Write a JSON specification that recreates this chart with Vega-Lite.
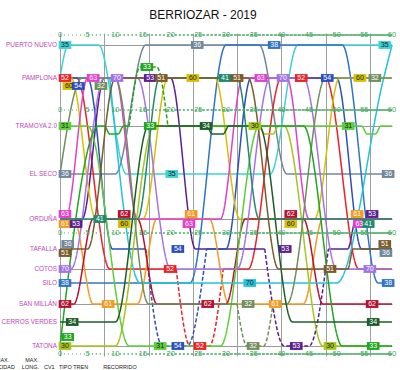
{
 "$schema": "https://vega.github.io/schema/vega-lite/v6.json",
 "width": 332, "height": 323, "autosize": "none",
 "padding": {"left": 60, "top": 33, "right": 8, "bottom": 14},
 "background": "white",
 "title": {"text": "BERRIOZAR - 2019", "fontSize": 12, "font": "Liberation Sans", "fontWeight": "normal", "color": "#111", "anchor": "middle", "dx": -23, "offset": 9},
 "config": {"view": {"stroke": null}, "font": "Liberation Sans",
   "axisX": {"grid": true, "gridColor": "#a0a0a0", "gridWidth": 1, "gridOpacity": 1, "labels": false, "ticks": false, "domain": false},
   "axisY": {"grid": true, "gridColor": "#9a9a9a", "gridOpacity": 1, "ticks": false, "domain": false, "labels": false}},
 "datasets": {
  "st": [{"st":"PN","p":12,"name":"PUERTO NUEVO"},{"st":"PA","p":45,"name":"PAMPLONA"},{"st":"PAl","p":53},{"st":"PC","p":34},{"st":"TR","p":93,"name":"TRAMOYA 2.0"},{"st":"TRd","p":101},{"st":"SE","p":141,"name":"EL SECO"},{"st":"OR","p":186,"name":"ORDUÑA"},{"st":"ORu","p":181},{"st":"ORl","p":191},{"st":"TA","p":216,"name":"TAFALLA"},{"st":"TAu","p":211},{"st":"TAl","p":220},{"st":"CO","p":236,"name":"COTOS"},{"st":"SI","p":250,"name":"SILO"},{"st":"SM","p":271,"name":"SAN MILLÁN"},{"st":"CV","p":289,"name":"CERROS VERDES"},{"st":"TT","p":313,"name":"TATONA"},{"st":"TTu","p":304}],
  "ax": [{"m":0},{"m":5},{"m":10},{"m":15},{"m":20},{"m":25},{"m":30},{"m":35},{"m":40},{"m":45},{"m":50},{"m":55},{"m":60}],
  "tr": [
   {"g":"35a","tr":"35","d":"s","t":[0,1.5,7,12,38,43,60],"st":["PA","PN","PN","SE","SE","PN","PN"]},
   {"g":"36a","tr":"36","d":"s","t":[0,10,15.5,36,41,60],"st":["SE","SE","PN","PN","SE","SE"]},
   {"g":"38a","tr":"38","d":"s","t":[0,23.5,30,51,57.5,60],"st":["SI","SI","PN","PN","SI","SI"]},
   {"g":"52a","tr":"52","d":"s","t":[0,3,9,21],"st":["PA","PA","CO","CO"]},
   {"g":"52b","tr":"52","d":"d","t":[21,23.5,27,29.5],"st":["CO","TT","TT","CO"]},
   {"g":"52c","tr":"52","d":"s","t":[29.5,34,40,48,54,60],"st":["CO","CO","PA","PA","CO","CO"]},
   {"g":"53a","tr":"53","d":"s","t":[0,4,8,20,24.5,37],"st":["OR","OR","PA","PA","TA","TA"]},
   {"g":"53b","tr":"53","d":"d","t":[37,40.5,45,48.5],"st":["TA","TT","TT","TA"]},
   {"g":"53c","tr":"53","d":"s","t":[48.5,52,53.5,60],"st":["TA","TA","OR","OR"]},
   {"g":"54a","tr":"54","d":"s","t":[0,5,9.5,15.5],"st":["PA","PA","TA","TA"]},
   {"g":"54b","tr":"54","d":"d","t":[15.5,18.5,23,26.5],"st":["TA","TT","TT","TA"]},
   {"g":"54c","tr":"54","d":"s","t":[26.5,30,34.5,50,54.5,60],"st":["TA","TA","PA","PA","TA","TA"]},
   {"g":"60a","tr":"60","d":"s","t":[0,2,6.5,15,19.5,28,32.5,46,50.5,60],"st":["PA","PA","OR","OR","PA","PA","OR","OR","PA","PA"]},
   {"g":"61a","tr":"61","d":"s","t":[0,2.5,6,14,17.5,27,30.5,44,47.5,60],"st":["OR","OR","SM","SM","OR","OR","SM","SM","OR","OR"]},
   {"g":"62a","tr":"62","d":"s","t":[0,2.5,6,14,17.5,30,33.5,44,47.5,60],"st":["SM","SM","OR","OR","SM","SM","OR","OR","SM","SM"]},
   {"g":"63a","tr":"63","d":"s","t":[0,1,5,10,14,29,33,41,45,60],"st":["OR","OR","PA","PA","OR","OR","PA","PA","OR","OR"]},
   {"g":"70a","tr":"70","d":"s","t":[0,2,8,14,20,32,38,44,50,60],"st":["CO","CO","PA","PA","CO","CO","PA","PA","CO","CO"]},
   {"g":"70c","tr":"70c","d":"s","t":[9,14.5,50,58.5,60],"st":["PA","SI","SI","PA","PN"]},
   {"g":"30a","tr":"30","d":"s","t":[0,10,17,36,37,38.5,39.5,40.5,47.5,60],"st":["TT","TT","TR","TR","TRd","TRd","TR","TR","TT","TT"]},
   {"g":"31a","tr":"31","d":"s","t":[0,5,12.5,29,36,54.5,55.5,57,58,60],"st":["TR","TR","TT","TT","TR","TR","TRd","TRd","TR","TR"]},
   {"g":"32a","tr":"32","d":"s","t":[0,4,10,16,32],"st":["SE","PA","PA","SM","SM"]},
   {"g":"32b","tr":"32","d":"d","t":[32,33.8,36.8,38.5],"st":["SM","TT","TT","SM"]},
   {"g":"32c","tr":"32","d":"s","t":[38.5,41,48,60],"st":["SM","SM","PA","PA"]},
   {"g":"33a","tr":"33","d":"s","t":[0,7,8,9,10.5,11.5,12.5],"st":["TT","TR","TR","TRd","TRd","TR","TR"]},
   {"g":"33b","tr":"33","d":"d","t":[12.5,14.5,17.5,19.5],"st":["TR","PC","PC","TR"]},
   {"g":"33c","tr":"33","d":"s","t":[19.5,44,51,60],"st":["TR","TR","TT","TT"]},
   {"g":"34a","tr":"34","d":"s","t":[0,10,16,26.5,27.5,29.5,30.5,36,42,60],"st":["CV","CV","TR","TR","TRd","TRd","TR","TR","CV","CV"]},
   {"g":"41a","tr":"41","d":"s","t":[0,14,18,32,36,60],"st":["OR","OR","PA","PA","OR","OR"]},
   {"g":"51a","tr":"51","d":"s","t":[0,5,10,34,39.5,52,53,60],"st":["TA","TA","PA","PA","CO","CO","TA","TA"]}
  ],
  "lb": [
   {"tr":"35","n":"35","t":0.9,"st":"PN"},{"tr":"36","n":"36","t":24.8,"st":"PN"},{"tr":"38","n":"38","t":38.7,"st":"PN"},{"tr":"35","n":"35","t":58.7,"st":"PN"},
   {"tr":"52","n":"52","t":0.9,"st":"PA"},{"tr":"60","n":"60","t":1.6,"st":"PAl"},{"tr":"54","n":"54","t":3.3,"st":"PAl"},{"tr":"63","n":"63","t":6.0,"st":"PA"},{"tr":"32","n":"32","t":7.4,"st":"PAl"},{"tr":"70","n":"70","t":10.3,"st":"PA"},{"tr":"53","n":"53","t":16.3,"st":"PA"},{"tr":"51","n":"51","t":18.3,"st":"PA"},{"tr":"60","n":"60","t":24.0,"st":"PA"},{"tr":"41","n":"41","t":29.8,"st":"PA"},{"tr":"51","n":"51","t":32.0,"st":"PA"},{"tr":"63","n":"63","t":36.3,"st":"PA"},{"tr":"70","n":"70","t":40.3,"st":"PA"},{"tr":"52","n":"52","t":43.6,"st":"PA"},{"tr":"54","n":"54","t":48.3,"st":"PA"},{"tr":"60","n":"60","t":54.2,"st":"PA"},{"tr":"32","n":"32","t":56.9,"st":"PA"},
   {"tr":"33","n":"33","t":15.7,"st":"PC"},
   {"tr":"31","n":"31","t":0.9,"st":"TR"},{"tr":"33","n":"33","t":16.3,"st":"TR"},{"tr":"34","n":"34","t":26.4,"st":"TR"},{"tr":"30","n":"30","t":35.2,"st":"TR"},{"tr":"31","n":"31","t":52.1,"st":"TR"},
   {"tr":"36","n":"36","t":0.9,"st":"SE"},{"tr":"35","n":"35","t":20.2,"st":"SE"},{"tr":"36","n":"36","t":59.3,"st":"SE"},
   {"tr":"63","n":"63","t":0.9,"st":"ORu"},{"tr":"61","n":"61","t":0.9,"st":"ORl"},{"tr":"53","n":"53","t":2.9,"st":"ORl"},{"tr":"41","n":"41","t":7.2,"st":"OR"},{"tr":"62","n":"62","t":11.6,"st":"ORu"},{"tr":"60","n":"60","t":11.6,"st":"ORl"},{"tr":"61","n":"61","t":23.7,"st":"ORu"},{"tr":"63","n":"63","t":23.3,"st":"ORl"},{"tr":"62","n":"62","t":41.7,"st":"ORu"},{"tr":"60","n":"60","t":41.7,"st":"ORl"},{"tr":"61","n":"61","t":53.7,"st":"ORu"},{"tr":"63","n":"63","t":54.1,"st":"ORl"},{"tr":"53","n":"53","t":56.4,"st":"ORu"},{"tr":"41","n":"41","t":55.7,"st":"ORl"},
   {"tr":"36","n":"36","t":1.4,"st":"TAu"},{"tr":"51","n":"51","t":0.9,"st":"TAl"},{"tr":"54","n":"54","t":21.3,"st":"TA"},{"tr":"53","n":"53","t":40.7,"st":"TA"},{"tr":"51","n":"51","t":58.7,"st":"TAu"},{"tr":"36","n":"36","t":58.9,"st":"TAl"},
   {"tr":"70","n":"70","t":0.9,"st":"CO"},{"tr":"52","n":"52","t":19.9,"st":"CO"},{"tr":"51","n":"51","t":48.8,"st":"CO"},{"tr":"70","n":"70","t":56.0,"st":"CO"},
   {"tr":"38","n":"38","t":0.9,"st":"SI"},{"tr":"70c","n":"70","t":34.3,"st":"SI"},{"tr":"38","n":"38","t":59.3,"st":"SI"},
   {"tr":"62","n":"62","t":0.9,"st":"SM"},{"tr":"61","n":"61","t":8.7,"st":"SM"},{"tr":"62","n":"62","t":26.7,"st":"SM"},{"tr":"32","n":"32","t":34.0,"st":"SM"},{"tr":"61","n":"61","t":38.9,"st":"SM"},{"tr":"62","n":"62","t":56.4,"st":"SM"},
   {"tr":"34","n":"34","t":2.2,"st":"CV"},{"tr":"34","n":"34","t":56.6,"st":"CV"},
   {"tr":"33","n":"33","t":1.4,"st":"TTu"},{"tr":"30","n":"30","t":0.9,"st":"TT"},{"tr":"31","n":"31","t":18.1,"st":"TT"},{"tr":"54","n":"54","t":21.3,"st":"TT"},{"tr":"52","n":"52","t":25.3,"st":"TT"},{"tr":"32","n":"32","t":34.9,"st":"TT"},{"tr":"53","n":"53","t":42.7,"st":"TT"},{"tr":"30","n":"30","t":48.8,"st":"TT"},{"tr":"33","n":"33","t":56.6,"st":"TT"}
  ],
  "ft": [
   {"n":"MAX.","m":-11.6,"r":327},{"n":"VELOCIDAD","m":-13.9,"r":334},
   {"n":"MAX.","m":-6.3,"r":327},{"n":"LONG.","m":-6.9,"r":334},
   {"n":"CV1","m":-2.9,"r":334},{"n":"TIPO TREN","m":-0.2,"r":334},{"n":"RECORRIDO","m":7.8,"r":334}
  ]
 },
 "layer": [
  {
   "data": {"name": "tr"},
   "transform": [{"flatten": ["t", "st"]}, {"lookup": "st", "from": {"data": {"name": "st"}, "key": "st", "fields": ["p"]}}],
   "mark": {"type": "line", "interpolate": "monotone", "strokeWidth": 1.5},
   "encoding": {
    "x": {"field": "t", "type": "quantitative", "title": null,
      "scale": {"domain": [0, 60], "nice": false, "zero": false},
      "axis": {"values": [0,1,2,3,4,5,6,7,8,9,10,11,12,13,14,15,16,17,18,19,20,21,22,23,24,25,26,27,28,29,30,31,32,33,34,35,36,37,38,39,40,41,42,43,44,45,46,47,48,49,50,51,52,53,54,55,56,57,58,59,60], "grid": true, "labels": false, "ticks": false, "domain": false, "title": null}},
    "y": {"field": "p", "type": "quantitative", "title": null,
      "scale": {"domain": [0, 323], "reverse": true, "nice": false, "zero": false},
      "axis": {"values": [12,45,93,141,186,216,236,250,271,289,313], "grid": true, "ticks": false, "domain": false, "labels": false, "title": null}},
    "detail": {"field": "g"},
    "order": {"field": "t", "type": "quantitative"},
    "color": {"field": "tr", "type": "nominal", "legend": null,
      "scale": {"domain": ["30","31","32","33","34","35","36","38","41","51","52","53","54","60","61","62","63","70","70c"],
                "range": ["#a6c41e","#5ccd3c","#6f8f5f","#1fa71f","#1d5e28","#3cd2d6","#70869a","#2f74c8","#1f8a6c","#7b5a2b","#ec2227","#5b1f8f","#2b4fbf","#d6c000","#f39a1f","#b8102e","#e33fcb","#a474e6","#22c3dc"]}},
    "strokeDash": {"field": "d", "type": "nominal", "legend": null, "scale": {"domain": ["s", "d"], "range": [[1, 0], [4, 2]]}}
   }
  },
  {
   "data": {"name": "st"},
   "transform": [{"filter": "isValid(datum.name)"}],
   "mark": {"type": "text", "align": "right", "baseline": "middle", "dx": -3, "fontSize": 6.4, "color": "#b848b8", "font": "Liberation Sans"},
   "encoding": {"x": {"datum": 0}, "y": {"field": "p", "type": "quantitative", "title": null}, "text": {"field": "name"}}
  },
  {"data": {"name": "ax"}, "mark": {"type": "rule", "color": "#55b070", "strokeDash": [1, 3]}, "encoding": {"x": {"field": "m", "type": "quantitative", "title": null}, "x2": {"datum": 60}, "y": {"datum": 2}}},
  {"data": {"name": "ax"}, "mark": {"type": "rule", "color": "#55b070", "strokeDash": [1, 3]}, "encoding": {"x": {"field": "m", "type": "quantitative", "title": null}, "x2": {"datum": 60}, "y": {"datum": 77}}},
  {"data": {"name": "ax"}, "mark": {"type": "rule", "color": "#55b070", "strokeDash": [1, 3]}, "encoding": {"x": {"field": "m", "type": "quantitative", "title": null}, "x2": {"datum": 60}, "y": {"datum": 200}}},
  {"data": {"name": "ax"}, "mark": {"type": "rule", "color": "#55b070", "strokeDash": [1, 3]}, "encoding": {"x": {"field": "m", "type": "quantitative", "title": null}, "x2": {"datum": 60}, "y": {"datum": 321}}},
  {"data": {"name": "ax"}, "mark": {"type": "text", "color": "#3ea85a", "fontSize": 7.5, "baseline": "middle"}, "encoding": {"x": {"field": "m", "type": "quantitative", "title": null}, "y": {"datum": 2}, "text": {"field": "m"}}},
  {"data": {"name": "ax"}, "mark": {"type": "text", "color": "#3ea85a", "fontSize": 7.5, "baseline": "middle"}, "encoding": {"x": {"field": "m", "type": "quantitative", "title": null}, "y": {"datum": 77}, "text": {"field": "m"}}},
  {"data": {"name": "ax"}, "mark": {"type": "text", "color": "#3ea85a", "fontSize": 7.5, "baseline": "middle"}, "encoding": {"x": {"field": "m", "type": "quantitative", "title": null}, "y": {"datum": 200}, "text": {"field": "m"}}},
  {"data": {"name": "ax"}, "mark": {"type": "text", "color": "#3ea85a", "fontSize": 7.5, "baseline": "middle"}, "encoding": {"x": {"field": "m", "type": "quantitative", "title": null}, "y": {"datum": 321}, "text": {"field": "m"}}},
  {
   "data": {"name": "lb"},
   "transform": [{"lookup": "st", "from": {"data": {"name": "st"}, "key": "st", "fields": ["p"]}}],
   "mark": {"type": "point", "shape": "M-1,-0.62L1,-0.62L1,0.62L-1,0.62Z", "filled": true, "opacity": 1, "size": 160},
   "encoding": {
    "x": {"field": "t", "type": "quantitative", "title": null},
    "y": {"field": "p", "type": "quantitative", "title": null},
    "fill": {"field": "tr", "type": "nominal", "legend": null,
      "scale": {"domain": ["30","31","32","33","34","35","36","38","41","51","52","53","54","60","61","62","63","70","70c"],
                "range": ["#a6c41e","#5ccd3c","#6f8f5f","#1fa71f","#1d5e28","#3cd2d6","#70869a","#2f74c8","#1f8a6c","#7b5a2b","#ec2227","#5b1f8f","#2b4fbf","#d6c000","#f39a1f","#b8102e","#e33fcb","#a474e6","#22c3dc"]}}
   }
  },
  {
   "data": {"name": "lb"},
   "transform": [{"lookup": "st", "from": {"data": {"name": "st"}, "key": "st", "fields": ["p"]}}],
   "mark": {"type": "text", "fontSize": 7, "baseline": "middle", "align": "center"},
   "encoding": {
    "x": {"field": "t", "type": "quantitative", "title": null},
    "y": {"field": "p", "type": "quantitative", "title": null},
    "text": {"field": "n"},
    "color": {"condition": {"test": "indexof(['60','30','31','35','70c'], datum.tr) >= 0", "value": "#222222"}, "value": "#ffffff"}
   }
  },
  {
   "data": {"name": "ft"},
   "mark": {"type": "text", "fontSize": 5.5, "align": "left", "baseline": "middle", "color": "#222"},
   "encoding": {"x": {"field": "m", "type": "quantitative", "title": null}, "y": {"field": "r", "type": "quantitative", "title": null}, "text": {"field": "n"}}
  }
 ]
}
